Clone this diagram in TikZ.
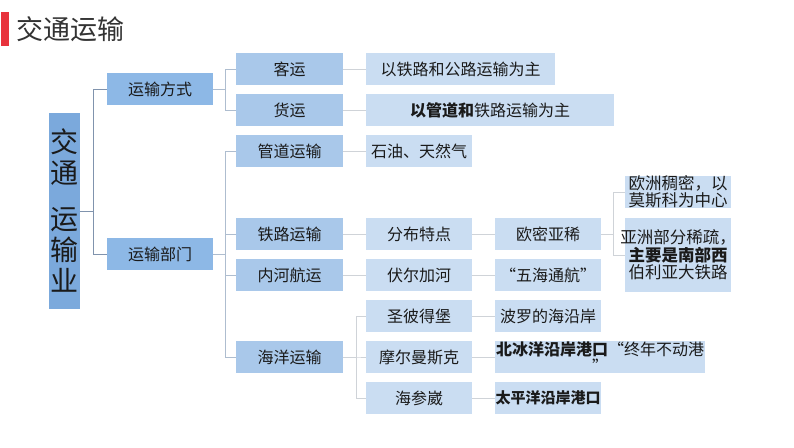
\documentclass[tikz,border=0pt]{standalone}
\usepackage{fontspec}
\setmainfont{Noto Sans CJK SC}
\definecolor{rootc}{HTML}{7BA9DC}
\definecolor{lev1}{HTML}{8DB8E6}
\definecolor{lev2}{HTML}{A9C8EA}
\definecolor{lev3}{HTML}{CADDF2}
\definecolor{txt}{HTML}{1A1A1A}
\definecolor{lnA}{HTML}{8093AD}
\definecolor{lnB}{HTML}{AEBDCF}
\definecolor{lnC}{HTML}{CFD3D8}
\definecolor{titlered}{HTML}{E8333D}
\definecolor{titlegray}{HTML}{333333}
\tikzset{
  box/.style={inner sep=0pt, minimum height=32pt, minimum width=106pt, text=txt,
    font=\fontsize{16}{17}\selectfont, align=center},
  b1/.style={box, fill=lev1},
  b2/.style={box, fill=lev2, minimum width=107pt},
  b3/.style={box, fill=lev3},
  lA/.style={draw=lnA, line width=0.8pt},
  lB/.style={draw=lnB, line width=0.8pt},
  lC/.style={draw=lnC, line width=0.8pt}
}
\begin{document}
\begin{tikzpicture}[x=1pt,y=-1pt]
\useasboundingbox (0,0) rectangle (794,447);
% title
\node[fill=titlered, inner sep=0pt, minimum width=8pt, minimum height=34pt] (bar) at (5,29) {};
\node[anchor=west, inner sep=0pt, text=titlegray, font=\fontsize{27}{30}\selectfont] (title) at (16,29) {交通运输};
% root
\node[fill=rootc, inner sep=0pt, minimum width=31pt, minimum height=196pt, text=txt,
  font=\fontsize{28}{31}\selectfont, align=center] (root) at (64.5,211) {交\\通\\[15pt]运\\输\\业};
% level 1
\node[b1] (fs) at (160,89) {运输方式};
\node[b1] (bm) at (160,254) {运输部门};
% level 2
\node[b2] (ky) at (289.5,69) {客运};
\node[b2] (hy) at (289.5,110) {货运};
\node[b2] (gd) at (289.5,151) {管道运输};
\node[b2] (tl) at (289.5,234) {铁路运输};
\node[b2] (nh) at (289.5,275) {内河航运};
\node[b2] (hyy) at (289.5,357) {海洋运输};
% level 3
\node[b3, minimum width=189pt] (k1) at (460.5,69) {以铁路和公路运输为主};
\node[b3, minimum width=248pt] (k2) at (490,110) {{\bfseries 以管道和}铁路运输为主};
\node[b3] (k3) at (419,151) {石油、天然气};
\node[b3] (fb) at (419,234) {分布特点};
\node[b3] (fe) at (419,275) {伏尔加河};
\node[b3] (sb) at (419,316) {圣彼得堡};
\node[b3] (me) at (419,357) {摩尔曼斯克};
\node[b3] (hs) at (419,398) {海参崴};
% level 4
\node[b3] (om) at (548,234) {欧密亚稀};
\node[b3] (wh) at (548,275) {“五海通航”};
\node[b3] (bl) at (548,316) {波罗的海沿岸};
\node[b3, minimum width=210pt] (bb) at (600,357) {\makebox[200pt]{{\bfseries 北冰洋沿岸港口}“终年不动港}\\”};
\node[b3, font=\fontsize{15}{17}\selectfont] (tp) at (548,398) {\bfseries 太平洋沿岸港口};
% level 5
\node[b3, font=\fontsize{16.5}{17}\selectfont] (oz) at (678,192) {\makebox[100pt]{欧洲稠密，以}\\\makebox[100pt]{莫斯科为中心}};
\node[b3, minimum height=74pt, font=\fontsize{16.5}{17.5}\selectfont] (yz) at (678,255) {\makebox[100pt]{亚洲部分稀疏，}\\{\bfseries 主要是南部西}\\伯利亚大铁路};
% connectors
\draw[lA] (root.east) -- ++(13,0) |- (fs.west);
\draw[lA] (root.east) -- ++(13,0) |- (bm.west);
\draw[lB] (fs.east) -- ++(12,0) |- (ky.west);
\draw[lB] (fs.east) -- ++(12,0) |- (hy.west);
\draw[lB] (bm.east) -- ++(12,0) |- (gd.west);
\draw[lB] (bm.east) -- ++(12,0) |- (tl.west);
\draw[lB] (bm.east) -- ++(12,0) |- (nh.west);
\draw[lB] (bm.east) -- ++(12,0) |- (hyy.west);
\draw[lC] (ky.east) -- (k1.west);
\draw[lC] (hy.east) -- (k2.west);
\draw[lC] (gd.east) -- (k3.west);
\draw[lC] (tl.east) -- (fb.west);
\draw[lC] (nh.east) -- (fe.west);
\draw[lC] (fb.east) -- (om.west);
\draw[lC] (fe.east) -- (wh.west);
\draw[lC] (hyy.east) -- ++(13,0) |- (sb.west);
\draw[lC] (hyy.east) -- ++(13,0) |- (me.west);
\draw[lC] (hyy.east) -- ++(13,0) |- (hs.west);
\draw[lC] (sb.east) -- (bl.west);
\draw[lC] (me.east) -- (bb.west);
\draw[lC] (hs.east) -- (tp.west);
\draw[lC] (om.east) -- ++(12,0) |- (oz.west);
\draw[lC] (om.east) -- ++(12,0) |- (yz.west);
\end{tikzpicture}
\end{document}
